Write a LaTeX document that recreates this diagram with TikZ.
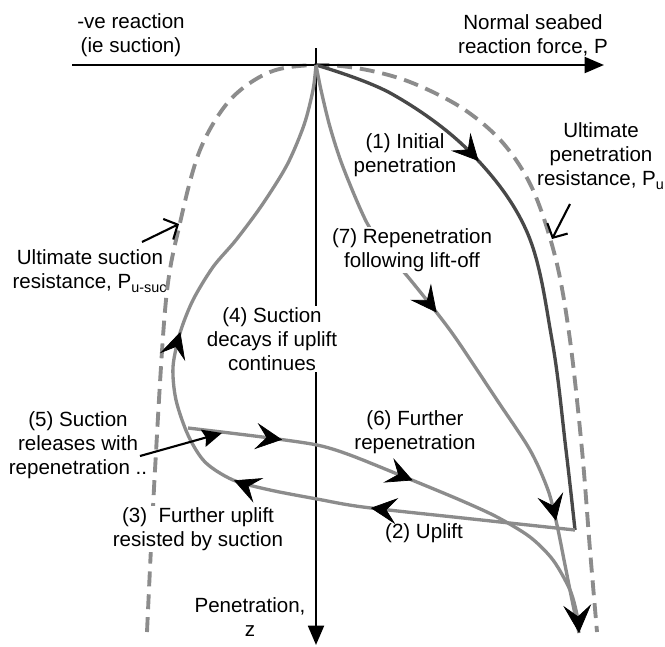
\documentclass[tikz,border=0pt]{standalone}
\usepackage{fontspec}
\setmainfont{Liberation Sans}
\usetikzlibrary{arrows.meta,decorations.markings}
\definecolor{loadgray}{RGB}{140,140,140}
\definecolor{loaddark}{RGB}{72,72,72}

\begin{document}
\begin{tikzpicture}[x=0.02cm,y=-0.02cm,
		font=\fontsize{11.7}{13.7}\selectfont,
		labeltext/.style={align=center,inner sep=1pt},
		covertext/.style={labeltext,fill=white},
		axisline/.style={line width=1.4pt,-{Triangle[length=11pt,width=9pt]}},
		envelope/.style={loadgray,line width=2.2pt,dash pattern=on 8.5pt off 4.5pt},
		loadpath/.style={loadgray,line width=1.9pt,line join=round},
		midarrow/.style={postaction={decorate,decoration={markings,
			mark=at position #1 with {\arrow{Stealth[color=black,length=15pt,width=15pt,inset=6pt,line width=0.4pt]}}}}},
		pointer/.style={line width=1.2pt,-{Straight Barb[length=6pt,width=13pt]}},
	]
	\useasboundingbox (0,0) rectangle (665,646);
	% axis points
	\coordinate (O) at (316,65);
	\coordinate (Pstart) at (72,65);
	\coordinate (Pend) at (604,65);
	\coordinate (Ztop) at (316,48);
	\coordinate (Zend) at (316,645);
	\coordinate (corner) at (575,530);
	\coordinate (rejoin) at (188,428);
	\coordinate (tip) at (579,633);
	% ultimate resistance envelope
	\draw [envelope] plot [smooth, tension=0.55] coordinates {(147,632) (155,470) (166,300) (180,223) (200,150) (230,100) (270,72) (O) (362,69) (410,82) (462,108) (503,143) (533,190) (556,260) (570,340) (582,450) (590,550) (597,632)};
	% axes
	\draw [axisline] (Pstart)--(Pend);
	\draw [axisline] (Ztop)--(Zend);
	% (1) initial penetration
	\draw [loaddark, line width=1.9pt, line join=round, midarrow=0.33] plot [smooth, tension=0.6] coordinates {(O) (392,94) (470,152) (527,232) (552,340) (566,450) (corner)};
	% (2) uplift, (3) suction, (4) decay
	\draw [loadpath, midarrow=0.25, midarrow=0.42, midarrow=0.63] plot [smooth, tension=0.5] coordinates {(corner) (463,518) (363,507) (317,499) (270,490) (233,480) (205,462) (188,435) (176,400) (173,367) (180,333) (193,300) (213,267) (236,240) (262,205) (287,165) (304,125) (313,90) (O)};
	% (7) repenetration after lift-off
	\draw [loadpath, midarrow=0.44, midarrow=0.82] plot [smooth, tension=0.5] coordinates {(O) (321,90) (330,127) (343,167) (367,223) (390,255) (413,283) (437,313) (457,340) (497,400) (530,450) (548,490) (557,525) (565,565) (572,600) (tip)};
	% (5) and (6) repenetration
	\draw [loadpath, midarrow=0.2, midarrow=0.49, -{Stealth[color=black,length=16pt,width=16pt,inset=6.5pt,line width=0.4pt]}] plot [smooth, tension=0.5] coordinates {(rejoin) (230,433) (270,438) (317,445) (350,455) (407,478) (460,500) (497,517) (530,537) (553,560) (570,590) (577,615) (tip)};
	% labels
	\node [labeltext] (negR) at (131,35) {-ve reaction\\(ie suction)};
	\node [labeltext] (normR) at (533,35) {Normal seabed\\reaction force, P};
	\node [labeltext] (init1) at (405,155) {(1) Initial\\penetration};
	\node [labeltext] (ultPen) at (601,156) {Ultimate\\penetration\\resistance, P\textsubscript{u}};
	\node [covertext] (repen7) at (412,250) {(7) Repenetration\\following lift-off};
	\node [labeltext] (ultSuc) at (90,271) {Ultimate suction\\resistance, P\textsubscript{u-suc}};
	\node [covertext] (decay4) at (272,339) {(4) Suction\\decays if uplift\\continues};
	\node [labeltext] (release5) at (78,445) {(5) Suction\\releases with\\repenetration ..};
	\node [labeltext] (further6) at (415,432) {(6) Further\\repenetration};
	\node [labeltext] (uplift2) at (424,533) {(2) Uplift};
	\node [covertext] (further3) at (198,529) {(3)\ \ Further uplift\\resisted by suction};
	\node [labeltext] (penZ) at (250,617) {Penetration,\\z};
	% pointers
	\coordinate (sucTail) at (142,242);
	\coordinate (sucHead) at (179,224);
	\coordinate (penTail) at (570,204);
	\coordinate (penHead) at (552,239);
	\coordinate (relTail) at (140,456);
	\coordinate (relHead) at (222,433);
	\draw [pointer] (sucTail)--(sucHead);
	\draw [pointer] (penTail)--(penHead);
	\draw [line width=1.2pt, -{Stealth[length=11pt,width=10pt,inset=1.5pt]}] (relTail)--(relHead);
\end{tikzpicture}
\end{document}
